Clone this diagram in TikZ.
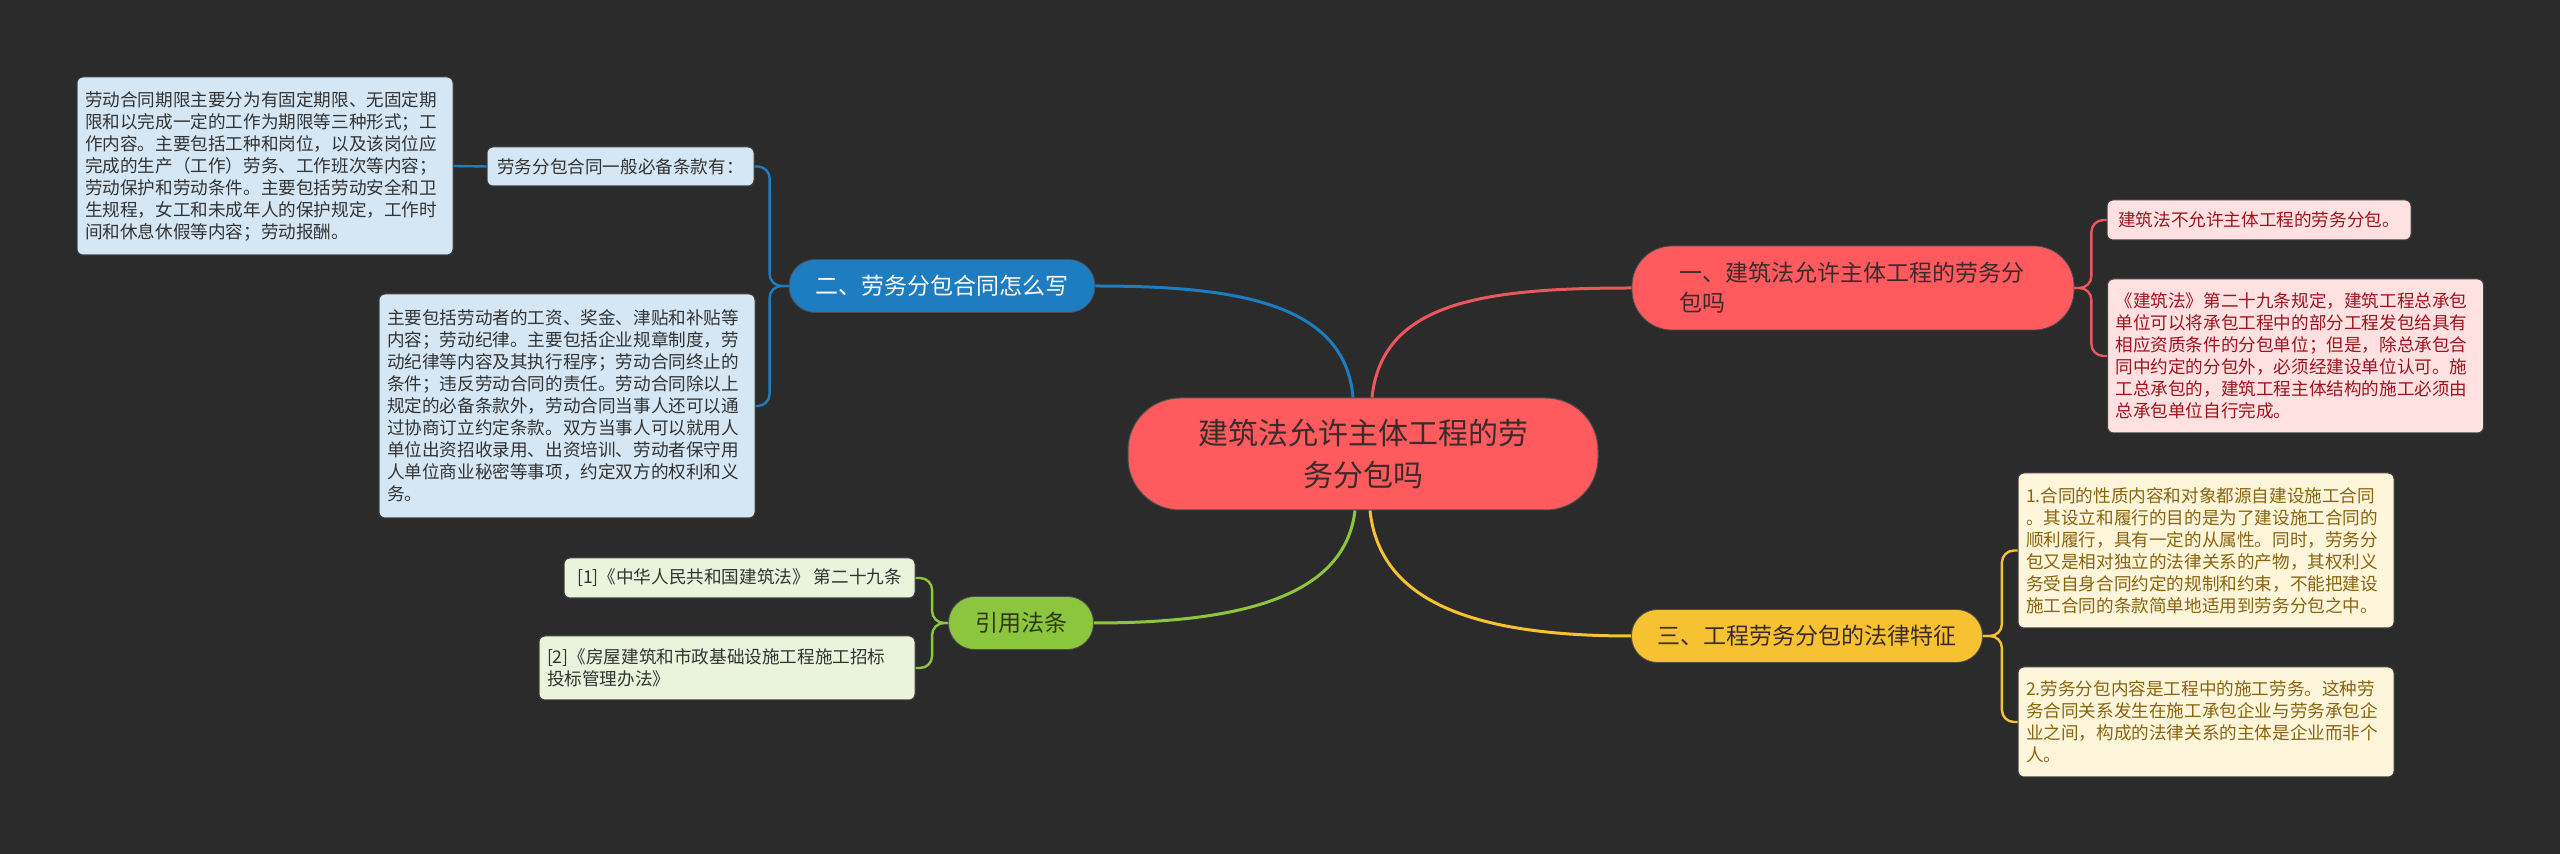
\documentclass[tikz,border=0pt]{standalone}
\usepackage{fontspec}
\setmainfont{Noto Sans CJK SC}
\usepackage{xcolor}
\usetikzlibrary{positioning}

\definecolor{bgdark}{HTML}{2B2B2B}
\definecolor{rootred}{HTML}{FF5A5E}
\definecolor{roottext}{HTML}{3D2B2B}
\definecolor{redline}{HTML}{E9585C}
\definecolor{redleaf}{HTML}{FFE1E2}
\definecolor{redtext}{HTML}{A0141E}
\definecolor{bluetopic}{HTML}{1E7CC1}
\definecolor{blueleaf}{HTML}{D5E7F5}
\definecolor{greentopic}{HTML}{8CC63E}
\definecolor{greenleaf}{HTML}{EAF4DC}
\definecolor{greentext}{HTML}{2D3A14}
\definecolor{yellowtopic}{HTML}{F7C232}
\definecolor{yellowleaf}{HTML}{FEF6DA}
\definecolor{yellowtext}{HTML}{8A6410}
\definecolor{leaftext}{HTML}{333333}

\tikzset{
  root/.style={fill=rootred, draw=black!70, line width=0.5pt, rounded corners=26pt,
    minimum width=235pt, minimum height=56pt, align=center, text=roottext,
    font=\fontsize{15}{21}\selectfont},
  branch/.style={rounded corners=13pt, minimum height=26.5pt, inner sep=2pt,
    draw=black!70, line width=0.4pt, font=\fontsize{11.5}{15}\selectfont},
  leaf/.style={rounded corners=3pt, draw=black!75, line width=0.5pt, inner xsep=4pt,
    inner ysep=3pt, align=left, text=leaftext, font=\fontsize{8.8}{11}\selectfont},
  link/.style={line width=1.5pt},
  sublink/.style={line width=1.2pt, rounded corners=6pt}
}

\begin{document}
\begin{tikzpicture}[x=0.5pt, y=-0.5pt]
  \useasboundingbox (0,0) rectangle (2560,854);
  \fill[bgdark] (0,0) rectangle (2560,854);

  % central topic
  \node[root] (root) at (1363,454) {建筑法允许主体工程的劳\\务分包吗};

  % main branches
  \node[branch, fill=rootred, text=roottext, minimum width=221pt, minimum height=42pt,
        rounded corners=20pt, text width=174pt, align=left] (b1) at (1853,288)
        {一、建筑法允许主体工程的劳务分\\包吗};
  \node[branch, fill=bluetopic, text=white, minimum width=153pt] (b2) at (942,286)
        {二、劳务分包合同怎么写};
  \node[branch, fill=greentopic, text=greentext, minimum width=72.5pt] (b3) at (1021,623)
        {引用法条};
  \node[branch, fill=yellowtopic, text=roottext, minimum width=175.5pt] (b4) at (1807,636)
        {三、工程劳务分包的法律特征};

  % red leaves
  \node[leaf, fill=redleaf, text=redtext, minimum width=152pt, minimum height=20pt] (r1) at (2259,220)
        {建筑法不允许主体工程的劳务分包。};
  \node[leaf, fill=redleaf, text=redtext, text width=180pt, minimum height=77pt] (r2) at (2295.5,356)
        {《建筑法》第二十九条规定，建筑工程总承包\\
         单位可以将承包工程中的部分工程发包给具有\\
         相应资质条件的分包单位；但是，除总承包合\\
         同中约定的分包外，必须经建设单位认可。施\\
         工总承包的，建筑工程主体结构的施工必须由\\
         总承包单位自行完成。};

  % blue leaves
  \node[leaf, fill=blueleaf, minimum width=133.5pt, minimum height=19.5pt] (bl1) at (620.5,166.5)
        {劳务分包合同一般必备条款有：};
  \node[leaf, fill=blueleaf, text width=180pt, minimum height=89pt] (bl1a) at (265,166)
        {劳动合同期限主要分为有固定期限、无固定期\\
         限和以完成一定的工作为期限等三种形式；工\\
         作内容。主要包括工种和岗位，以及该岗位应\\
         完成的生产（工作）劳务、工作班次等内容；\\
         劳动保护和劳动条件。主要包括劳动安全和卫\\
         生规程，女工和未成年人的保护规定，工作时\\
         间和休息休假等内容；劳动报酬。};
  \node[leaf, fill=blueleaf, text width=180pt, minimum height=112pt] (bl2) at (567,406)
        {主要包括劳动者的工资、奖金、津贴和补贴等\\
         内容；劳动纪律。主要包括企业规章制度，劳\\
         动纪律等内容及其执行程序；劳动合同终止的\\
         条件；违反劳动合同的责任。劳动合同除以上\\
         规定的必备条款外，劳动合同当事人还可以通\\
         过协商订立约定条款。双方当事人可以就用人\\
         单位出资招收录用、出资培训、劳动者保守用\\
         人单位商业秘密等事项，约定双方的权利和义\\
         务。};

  % green leaves
  \node[leaf, fill=greenleaf, minimum width=175.5pt, minimum height=20pt] (g1) at (739.5,578)
        {[1]《中华人民共和国建筑法》 第二十九条};
  \node[leaf, fill=greenleaf, text width=180pt, minimum height=32pt] (g2) at (727,668)
        {[2]《房屋建筑和市政基础设施工程施工招标\\
         投标管理办法》};

  % yellow leaves
  \node[leaf, fill=yellowleaf, text=yellowtext, text width=180pt, minimum height=77.5pt] (y1) at (2206,550.5)
        {1.合同的性质内容和对象都源自建设施工合同\\
         。其设立和履行的目的是为了建设施工合同的\\
         顺利履行，具有一定的从属性。同时，劳务分\\
         包又是相对独立的法律关系的产物，其权利义\\
         务受自身合同约定的规制和约束，不能把建设\\
         施工合同的条款简单地适用到劳务分包之中。};
  \node[leaf, fill=yellowleaf, text=yellowtext, text width=180pt, minimum height=55pt] (y2) at (2206,722)
        {2.劳务分包内容是工程中的施工劳务。这种劳\\
         务合同关系发生在施工承包企业与劳务承包企\\
         业之间，构成的法律关系的主体是企业而非个\\
         人。};

  % root to branches
  \draw[link, bluetopic] ([xshift=-5pt]root.north) .. controls +(-8,-95) and +(140,0) .. (b2.east);
  \draw[link, redline] ([xshift=4.5pt]root.north) .. controls +(10,-95) and +(-150,0) .. (b1.west);
  \draw[link, greentopic] ([xshift=-4pt]root.south) .. controls +(-10,85) and +(150,0) .. (b3.east);
  \draw[link, yellowtopic] ([xshift=3.5pt]root.south) .. controls +(10,95) and +(-150,0) .. (b4.west);

  % branches to leaves
  \draw[sublink, redline] (b1.east) -- ++(17,0) |- (r1.west);
  \draw[sublink, redline] (b1.east) -- ++(17,0) |- (r2.west);
  \draw[sublink, bluetopic] (b2.west) -- ++(-19,0) |- (bl1.east);
  \draw[sublink, bluetopic] (b2.west) -- ++(-19,0) |- (bl2.east);
  \draw[sublink, bluetopic] (bl1.west) -- (bl1a.east);
  \draw[sublink, greentopic] (b3.west) -- ++(-16,0) |- (g1.east);
  \draw[sublink, greentopic] (b3.west) -- ++(-16,0) |- (g2.east);
  \draw[sublink, yellowtopic] (b4.east) -- ++(19,0) |- (y1.west);
  \draw[sublink, yellowtopic] (b4.east) -- ++(19,0) |- (y2.west);
\end{tikzpicture}
\end{document}
